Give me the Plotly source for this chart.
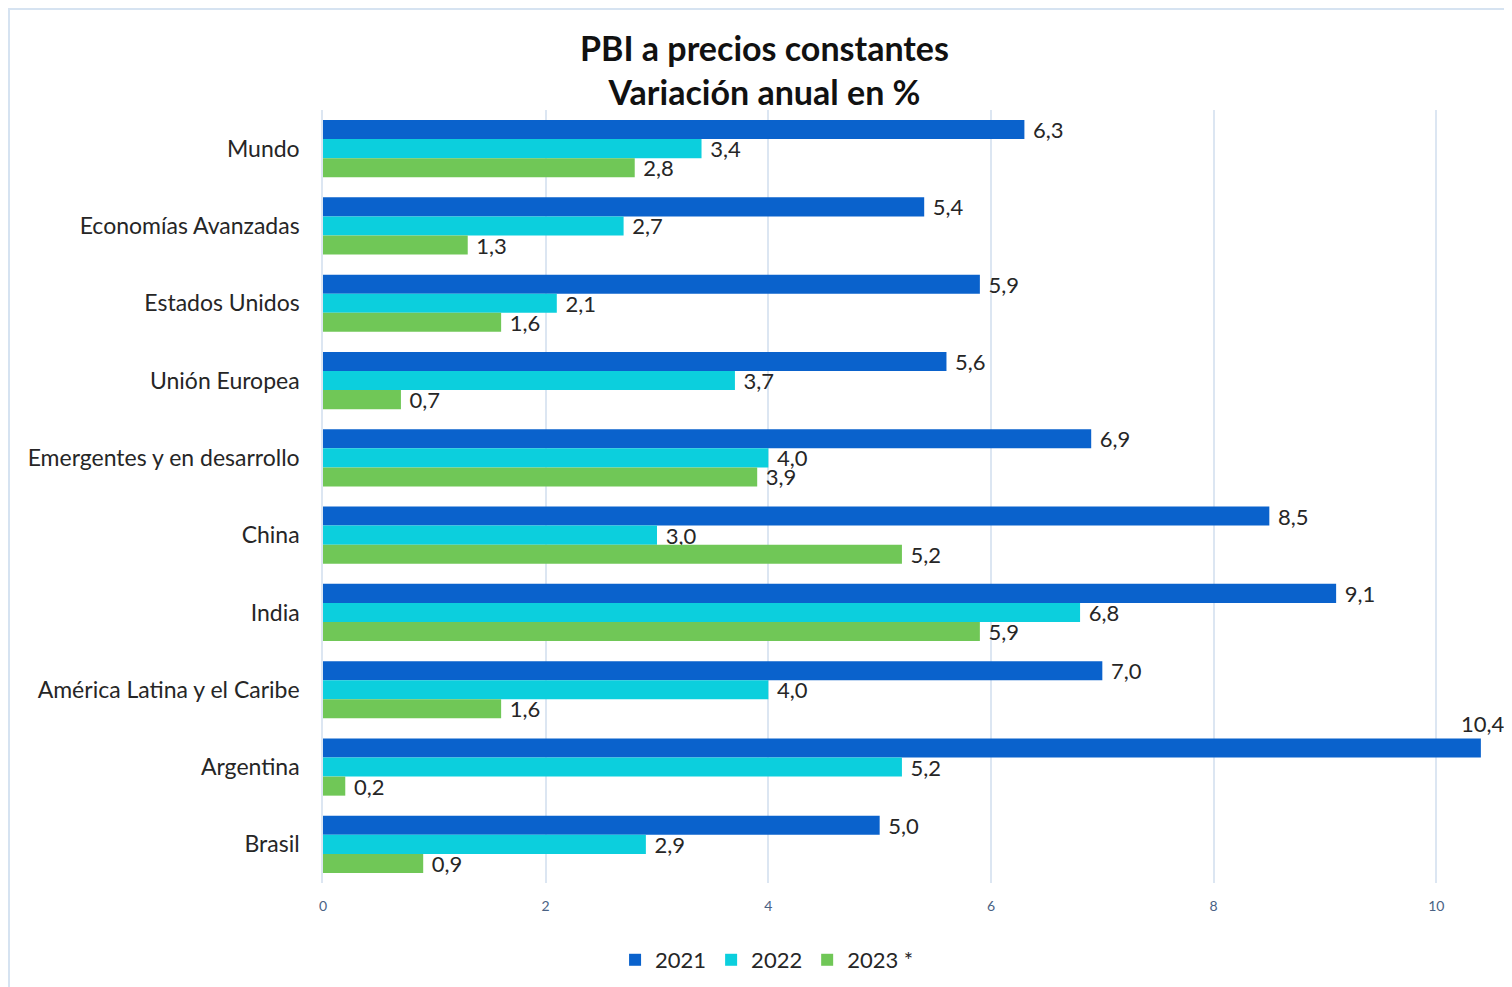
import plotly.graph_objects as go

regions = ["Mundo", "Economías Avanzadas", "Estados Unidos", "Unión Europea",
           "Emergentes y en desarrollo", "China", "India",
           "América Latina y el Caribe", "Argentina", "Brasil"]
gdp_2021 = [6.3, 5.4, 5.9, 5.6, 6.9, 8.5, 9.1, 7.0, 10.4, 5.0]
gdp_2022 = [3.4, 2.7, 2.1, 3.7, 4.0, 3.0, 6.8, 4.0, 5.2, 2.9]
gdp_2023 = [2.8, 1.3, 1.6, 0.7, 3.9, 5.2, 5.9, 1.6, 0.2, 0.9]
series_names = ["2021", "2022", "2023 *"]
colors = ["#0A62CC", "#0CCFDD", "#70C757"]

x_max = 10.5


def fmt(v):
    return f"{v:.1f}".replace(".", ",")


fig = go.Figure()
for name, vals, col in zip(series_names, [gdp_2021, gdp_2022, gdp_2023], colors):
    # values that would run past the plot edge get their label as an annotation
    texts = ["\u00a0" + fmt(v) if v < x_max - 0.3 else "" for v in vals]
    fig.add_trace(go.Bar(
        y=regions, x=vals, name=name, orientation="h",
        marker=dict(color=col, line=dict(width=0)),
        text=texts, textposition="outside", constraintext="none",
        textfont=dict(size=22, color="#262626", family="Lato"),
        cliponaxis=False,
    ))
    for r, v in zip(regions, vals):
        if v >= x_max - 0.3:
            fig.add_annotation(x=v, y=r, text=fmt(v), showarrow=False,
                               xanchor="center", yanchor="middle",
                               xshift=2, yshift=44,
                               font=dict(size=22, color="#262626", family="Lato"))

# chart border like the original spreadsheet frame
fig.add_shape(type="rect", xref="paper", yref="paper",
              x0=-0.2686, x1=1.2, y0=-0.2, y1=1.1307,
              line=dict(color="#D6E3F1", width=2), layer="below")

# the page body adds an 8px margin, so the figure is 8px smaller
fig.update_layout(
    width=1504, height=979,
    margin=dict(l=315, r=20, t=102, b=104),
    paper_bgcolor="white", plot_bgcolor="white",
    barmode="group", bargap=0.26, bargroupgap=0,
    font=dict(family="Lato", color="#262626"),
    title=dict(text="<b>PBI a precios constantes<br>Variación anual en %</b>",
               x=0.503, xanchor="center", y=0.946, yanchor="middle",
               font=dict(size=34, color="#111111", family="Lato")),
    legend=dict(orientation="h", xref="container", yref="container",
                x=0.5047, xanchor="center", y=0.0276, yanchor="middle",
                font=dict(size=22, color="#262626"),
                itemwidth=30, traceorder="normal"),
    xaxis=dict(range=[0, x_max], tickvals=[0, 2, 4, 6, 8, 10],
               showgrid=True, gridcolor="#DCE6F2", gridwidth=1.5,
               zeroline=False, showline=False,
               tickfont=dict(size=14, color="#4A6284"), ticklabelstandoff=13),
    yaxis=dict(autorange="reversed", showgrid=False, showline=True,
               linecolor="#DCE6F2", linewidth=1.5,
               tickfont=dict(size=23, color="#262626"), ticklabelstandoff=17),
)

fig.write_html("out.html")
